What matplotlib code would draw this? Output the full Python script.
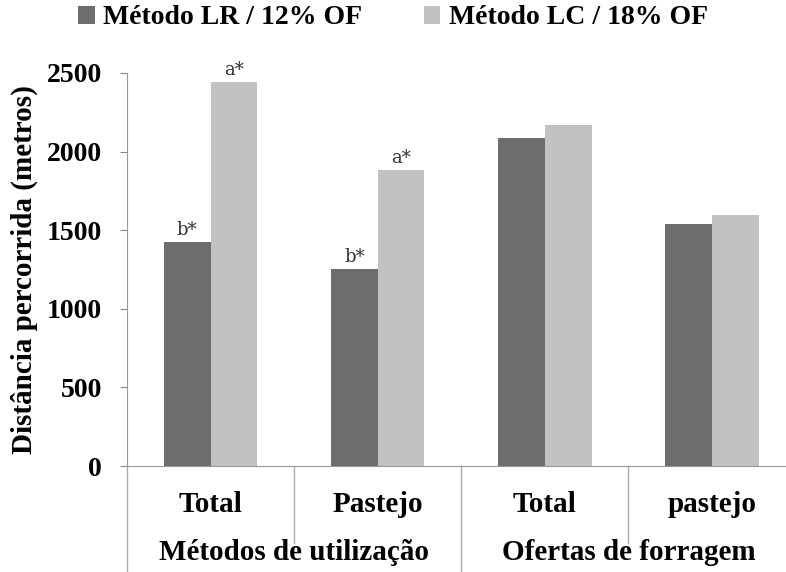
import numpy as np
import matplotlib.pyplot as plt
import matplotlib.transforms as mtransforms

# data
sub_labels = ["Total", "Pastejo", "Total", "pastejo"]
group_labels = ["Métodos de utilização", "Ofertas de forragem"]
series_names = ["Método LR / 12% OF", "Método LC / 18% OF"]
lr_vals = [1425, 1255, 2085, 1540]
lc_vals = [2440, 1885, 2170, 1597]
lr_marks = ["b*", "b*", "", ""]
lc_marks = ["a*", "a*", "", ""]

plt.rcParams['font.family'] = ['Liberation Serif', 'DejaVu Serif']

fig = plt.figure(figsize=(7.86, 5.72), dpi=100)
ax = fig.add_axes([127/786, 1-466/572, 1-127/786 + 0.012, (466-73)/572])

x = np.arange(len(sub_labels))
w = 0.28
dark = '#6b6d6f'
light = '#c2c2c2'
b1 = ax.bar(x - w/2, lr_vals, w, color=dark, label=series_names[0])
b2 = ax.bar(x + w/2, lc_vals, w, color=light, label=series_names[1])

for i in range(len(x)):
    if lr_marks[i]:
        ax.text(x[i] - w/2, lr_vals[i] + 20, lr_marks[i], ha='center', va='bottom',
                fontsize=13, color='#333333', family='DejaVu Serif')
    if lc_marks[i]:
        ax.text(x[i] + w/2, lc_vals[i] + 20, lc_marks[i], ha='center', va='bottom',
                fontsize=13, color='#333333', family='DejaVu Serif')

ax.set_xlim(-0.5, 3.5)
ax.set_ylim(0, 2500)
ax.set_yticks([0, 500, 1000, 1500, 2000, 2500])
for lab in ax.get_yticklabels():
    lab.set_fontweight('bold')
ax.tick_params(axis='y', labelsize=20, colors='#888888', labelcolor='black', length=5, pad=13)
ax.set_xticks([])

for s in ['top', 'right']:
    ax.spines[s].set_visible(False)
ax.spines['left'].set_color('#999999')
ax.spines['bottom'].set_color('#999999')

ax.set_ylabel("Distância percorrida (metros)", fontsize=21, fontweight='bold', labelpad=6)

# hierarchical category axis
trans = mtransforms.blended_transform_factory(ax.transData, ax.transAxes)
for i, lab in enumerate(sub_labels):
    ax.text(x[i], -0.099, lab, transform=trans, ha='center', va='center',
            fontsize=21, fontweight='bold')
for g, lab in enumerate(group_labels):
    ax.text(0.5 + 2*g, -0.221, lab, transform=trans, ha='center', va='center',
            fontsize=21, fontweight='bold')
for xs in [0.5, 2.5]:
    ax.plot([xs, xs], [0, -0.196], transform=trans, color='#aaaaaa', lw=1, clip_on=False)
for xs in [-0.5, 1.5]:
    ax.plot([xs, xs], [0, -0.28], transform=trans, color='#aaaaaa', lw=1, clip_on=False)

leg = fig.legend(handles=[b1, b2], loc='center', bbox_to_anchor=(0.5, 1-18/572), ncol=2,
                 frameon=False, handlelength=0.6, handleheight=0.6, handletextpad=0.3,
                 columnspacing=2.2, prop={'size': 20, 'weight': 'bold'})

fig.savefig("out.png", dpi=100)
